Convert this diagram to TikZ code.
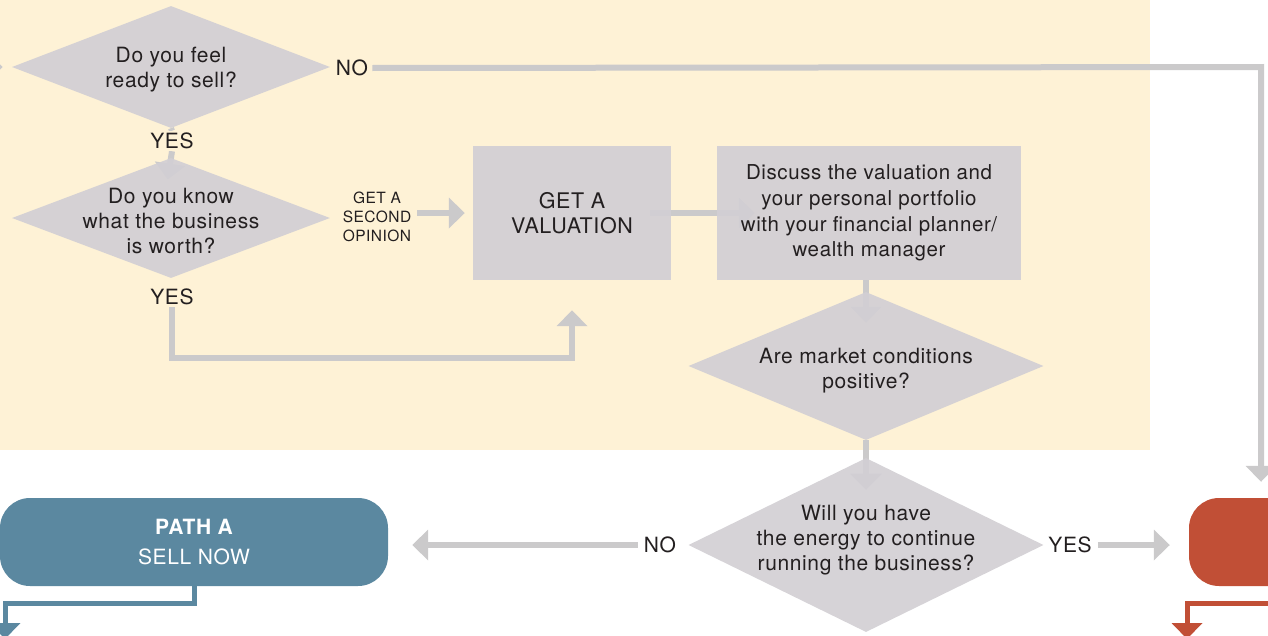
\documentclass[tikz,border=0pt]{standalone}
\usepackage{fontspec}
\setmainfont[LetterSpace=3]{TeX Gyre Heros}
\usetikzlibrary{shapes.geometric,arrows.meta}
\definecolor{bgyel}{RGB}{254,242,214}
\definecolor{shapefill}{RGB}{210,207,212}
\definecolor{linegray}{RGB}{203,202,203}
\definecolor{txt}{RGB}{35,31,32}
\definecolor{pathblue}{RGB}{91,136,160}
\definecolor{pathred}{RGB}{193,79,54}
\pgfdeclarelayer{bglayer}
\pgfdeclarelayer{conn}
\pgfsetlayers{bglayer,conn,main}
\tikzset{
  qdiamond/.style={diamond,fill=shapefill,fill opacity=0.92,inner sep=0pt},
  qtext/.style={align=center,text=txt,font=\fontsize{21}{25}\selectfont,inner sep=0pt},
  qbox/.style={rectangle,fill=shapefill,fill opacity=0.92,text opacity=1,inner sep=0pt,align=center,text=txt},
  lbl/.style={text=txt,font=\fontsize{21}{25}\selectfont,inner sep=2pt},
  conn/.style={draw=linegray,line width=6pt,-{Triangle[width=30pt,length=16pt]}},
  plainconn/.style={draw=linegray,line width=6pt},
  bluearrow/.style={draw=pathblue,line width=5pt,-{Triangle[width=30pt,length=16pt]}},
  redarrow/.style={draw=pathred,line width=5pt,-{Triangle[width=30pt,length=16pt]}},
}
\begin{document}
\begin{tikzpicture}[x=1pt,y=-1pt]
\useasboundingbox (0,0) rectangle (1268,635);
\clip (0,0) rectangle (1268,635);
\begin{pgfonlayer}{bglayer}
  \fill[bgyel] (0,0) rectangle (1150,450);
\end{pgfonlayer}

% nodes
\node[qdiamond,minimum width=318pt,minimum height=122pt,
  label={[qtext,yshift=-3pt]center:Do you feel\\ready to sell?}] (d1) at (171,67) {};
\node[qdiamond,minimum width=318pt,minimum height=120pt,
  label={[qtext,yshift=-2.5pt]center:Do you know\\what the business\\is worth?}] (d2) at (171,218) {};
\node[qbox,minimum width=198pt,minimum height=134pt,font=\fontsize{21.5}{25}\selectfont] (val) at (572,213) {GET A\\VALUATION};
\node[qbox,minimum width=304pt,minimum height=134pt,font=\fontsize{20.5}{25.8}\selectfont] (disc) at (869,213) {Discuss the valuation and\\your personal portfolio\\with your financial planner/\\wealth manager};
\node[qdiamond,minimum width=355pt,minimum height=148pt,
  label={[qtext,yshift=-5pt]center:Are market conditions\\positive?}] (d3) at (866,366) {};
\node[qdiamond,minimum width=355pt,minimum height=174pt,
  label={[qtext,yshift=5pt]center:Will you have\\the energy to continue\\running the business?}] (d4) at (866,545) {};
\node[rectangle,rounded corners=30pt,fill=pathblue,minimum width=388pt,minimum height=88pt,inner sep=0pt,align=center,text=white] (pathA) at (194,542)
  {{\fontsize{21}{25}\selectfont\bfseries PATH A}\\[14pt]{\fontsize{21}{25}\selectfont SELL NOW}};
\node[rectangle,rounded corners=30pt,fill=pathred,minimum width=180pt,minimum height=88pt,inner sep=0pt] (pathB) at (1279,542) {};

% labels
\node[lbl] (no1) at (352,68) {NO};
\node[lbl,fill=bgyel] (yes1) at (172,141) {YES};
\node[lbl] (yes2) at (172,297) {YES};
\node[lbl,font=\fontsize{15.5}{19}\selectfont,align=center] (second) at (377,217) {GET A\\SECOND\\OPINION};
\node[lbl] (no4) at (660,545) {NO};
\node[lbl] (yes4) at (1070,545) {YES};

% coordinates
\coordinate (inL) at (-40,67);
\coordinate (nTurn) at (1261,67);
\coordinate (c2) at (172,358);
\coordinate (aTurn) at (5,603);
\coordinate (aEnd) at (5,639);
\coordinate (bStart) at (1290,603);
\coordinate (bTurn) at (1187,603);
\coordinate (bEnd) at (1187,639);

\begin{pgfonlayer}{conn}
  \draw[conn,shorten >=9pt] (inL) -- (d1.west);
  \draw[conn,shorten <=2pt,shorten >=16pt] (no1.east) -- (nTurn) -- (nTurn |- pathB.north);
  \draw[plainconn] (d1.south) -- (yes1.north);
  \draw[conn,shorten >=-22pt] (yes1.south) -- (d2.north);
  \draw[conn,shorten >=30pt] (yes2.south) -- (c2) -| (val.south);
  \draw[conn,shorten <=4pt,shorten >=8pt] (second.east |- val.west) -- (val.west);
  \draw[conn,shorten <=-21pt,shorten >=-38pt] (val.east) -- (val.east -| disc.west);
  \draw[conn,shorten >=-31pt] (disc.south -| d3.north) -- (d3.north);
  \draw[conn,shorten >=-32pt] (d3.south) -- (d4.north);
  \draw[conn,shorten <=4pt,shorten >=24pt] (no4.west) -- (no4.west -| pathA.east);
  \draw[conn,shorten <=4pt,shorten >=19pt] (yes4.east) -- (yes4.east -| pathB.west);
  \draw[bluearrow] (pathA.south) |- (aTurn) -- (aEnd);
  \draw[redarrow] (bStart) -- (bTurn) -- (bEnd);
\end{pgfonlayer}
\end{tikzpicture}
\end{document}
